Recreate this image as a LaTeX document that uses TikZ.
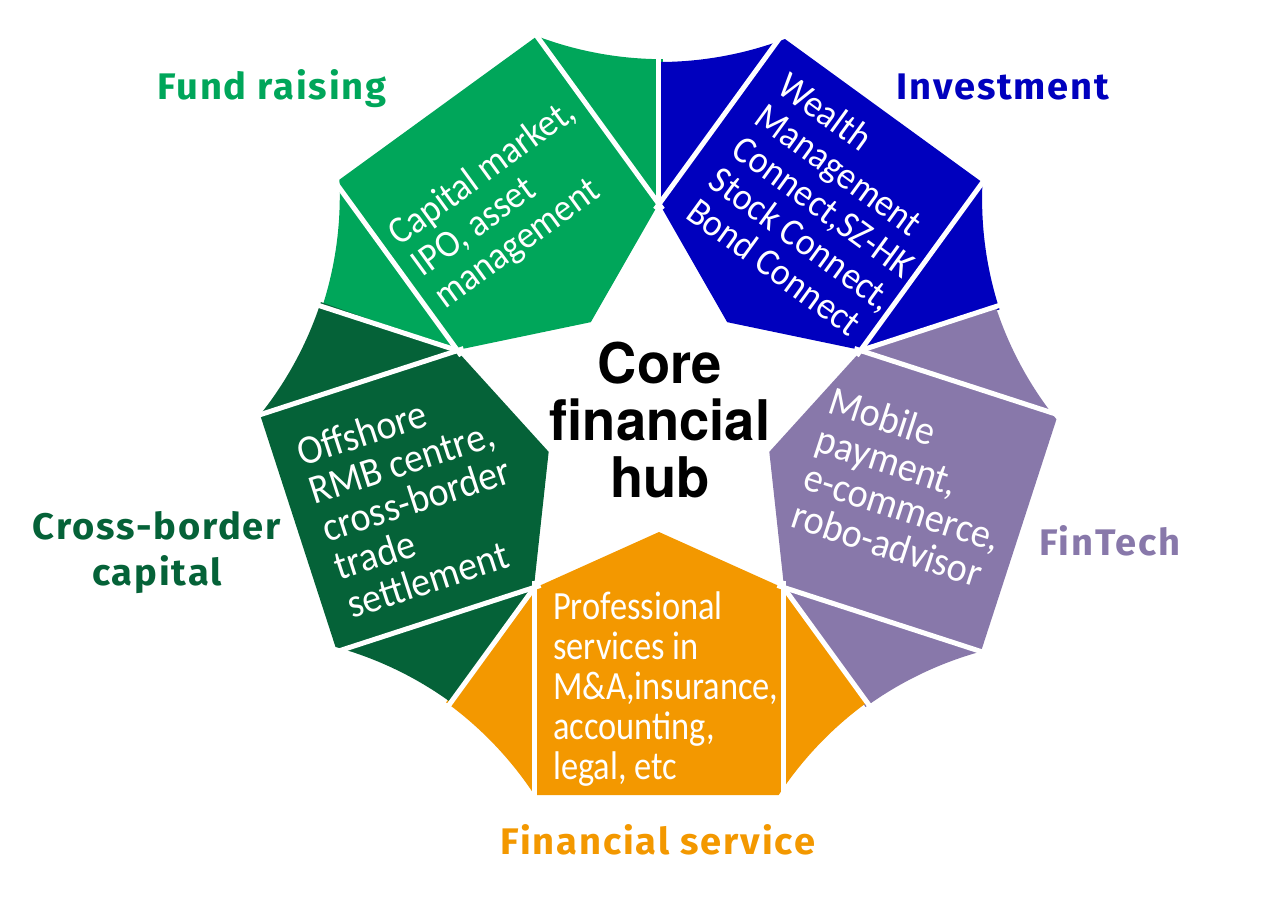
\documentclass[tikz,border=0pt]{standalone}
\usepackage{fontspec}
\setmainfont[LetterSpace=5,FakeStretch=1.03]{Fira Sans}
\newfontfamily\vekony[FakeStretch=0.93]{Carlito}
\newfontfamily\keskeny[FakeStretch=0.86]{Carlito}
\newfontfamily\kozepfont[FakeStretch=0.97]{TeX Gyre Heros}
\definecolor{alapzold}{RGB}{0,166,90}
\definecolor{befkek}{RGB}{0,0,190}
\definecolor{fintechlila}{RGB}{136,120,170}
\definecolor{szolgnarancs}{RGB}{243,152,0}
\definecolor{hatarzold}{RGB}{5,98,56}

\begin{document}
\begin{tikzpicture}[x=1pt, y=1pt,
        belso/.style={text=white, inner sep=0pt, align=left,
            font=\vekony\fontsize{41}{40}\selectfont},
        kisebb/.style={font=\vekony\fontsize{38.5}{39}\selectfont},
        cimke/.style={inner sep=0pt, align=center,
            font=\bfseries\fontsize{37}{46}\selectfont},
        valaszto/.style={white, line width=5pt}]
        \useasboundingbox (-659,-484) rectangle (611,416);
        \pgfmathsetmacro{\csucs}{116}
        \pgfmathsetmacro{\vall}{213}
        \pgfmathsetmacro{\hegy}{354}
        \pgfmathsetmacro{\sarok}{379}
        \pgfmathsetmacro{\szel}{124.5}
        \pgfmathsetmacro{\ivKozep}{711}
        \pgfmathsetmacro{\ivSugar}{\ivKozep-\hegy}
        \pgfmathsetmacro{\sarokSzog}{360-acos((\sarok-\ivKozep*cos(36))/\ivSugar)}
        \pgfmathsetmacro{\sarokSzogB}{360-\sarokSzog}
        \foreach \szog/\szin in {126/alapzold, 54/befkek, -18/fintechlila, -90/szolgnarancs, 198/hatarzold} {
                \fill[\szin, rotate=\szog] (\csucs,0) -- (36:\vall) -- (36:\hegy)
                arc[start angle=216, end angle=\sarokSzog, radius=\ivSugar]
                -- (\sarok,-\szel)
                arc[start angle=\sarokSzogB, end angle=144, radius=\ivSugar]
                -- (-36:\vall) -- cycle;
            }
        \foreach \szog in {126, 54, -18, -90, 198} {
                \draw[valaszto, rotate=\szog] (36:\vall-8) -- (36:\hegy+10);
                \draw[valaszto, rotate=\szog] (165,\szel) -- (395,\szel);
                \draw[valaszto, rotate=\szog] (165,-\szel) -- (395,-\szel);
            }

        \node[belso, kisebb, rotate=36] (alapSzoveg) at (-153,211) {Capital market,\\IPO, asset\\management};
        \node[belso, kisebb, rotate=-36] (befSzoveg) at (166,209) {Wealth\\Management\\Connect,SZ-HK\\Stock Connect,\\Bond Connect};
        \node[belso, rotate=-18] (finSzoveg) at (250,-72) {Mobile\\payment,\\e-commerce,\\robo-advisor};
        \node[belso, anchor=north west, font=\keskeny\fontsize{40}{40}\selectfont] (szolgSzoveg) at (-106,-176) {Professional\\services in\\M\&A,insurance,\\accounting,\\legal, etc};
        \node[belso, rotate=18] (hatarSzoveg) at (-243,-83) {Offshore\\RMB centre,\\cross-border\\trade\\settlement};

        \node[inner sep=0pt, align=center, font=\kozepfont\bfseries\fontsize{56}{57}\selectfont] (kozep) at (1,-4) {Core\\financial\\hub};

        \node[cimke, text=alapzold] (alapCimke) at (-387,327) {Fund raising};
        \node[cimke, text=befkek] (befCimke) at (344,329) {Investment};
        \node[cimke, text=fintechlila] (finCimke) at (451,-125) {FinTech};
        \node[cimke, text=hatarzold] (hatarCimke) at (-502,-137) {Cross-border\\capital};
        \node[cimke, text=szolgnarancs] (szolgCimke) at (-1,-424) {Financial service};
    \end{tikzpicture}
\end{document}
